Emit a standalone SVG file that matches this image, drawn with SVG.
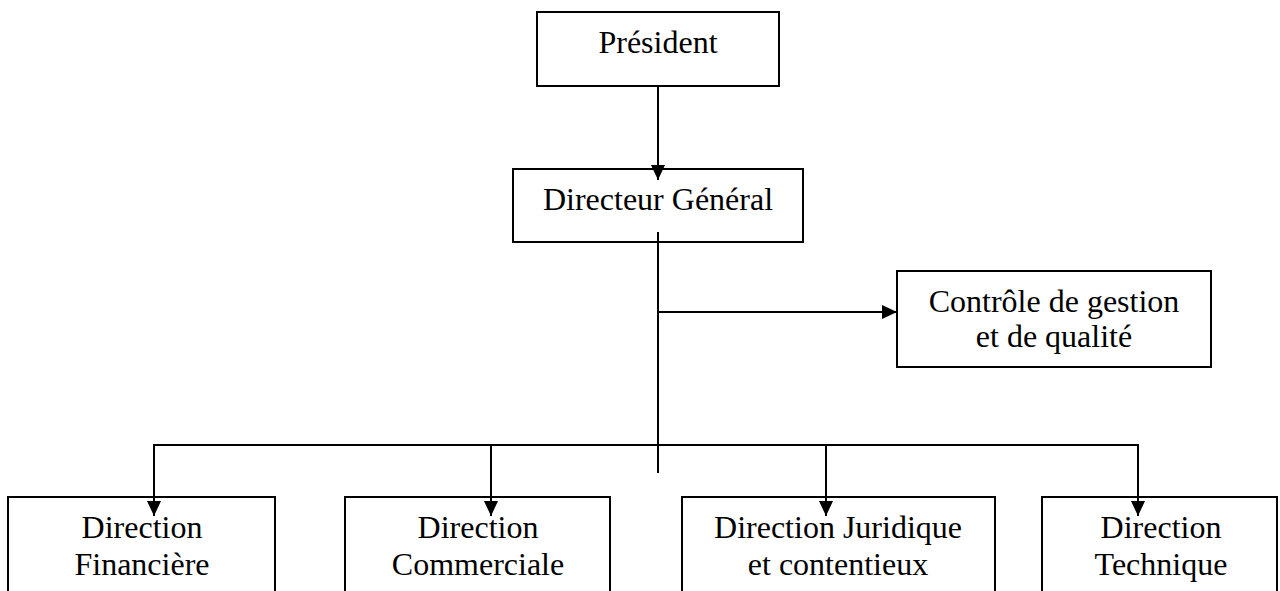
<svg xmlns="http://www.w3.org/2000/svg" width="1280" height="591" viewBox="0 0 1280 591">
  <style>
    .box { fill: #ffffff; stroke: #000000; stroke-width: 2; }
    .lbl { font-family: "Liberation Serif", "Times New Roman", serif; font-size: 32px; fill: #000000; text-anchor: middle; }
    .conn { fill: none; stroke: #000000; stroke-width: 2; }
  </style>
  <defs>
    <marker id="arrow" markerUnits="userSpaceOnUse" markerWidth="15" markerHeight="14" refX="15" refY="7" orient="auto">
      <path d="M0,0 L15,7 L0,14 z" fill="#000000"/>
    </marker>
  </defs>
  <rect width="1280" height="591" fill="#ffffff"/>

  <g id="president">
    <rect class="box" x="537" y="12" width="242" height="74"/>
    <text class="lbl" x="658" y="53">Président</text>
  </g>

  <g id="directeur-general">
    <rect class="box" x="513" y="169" width="290" height="73"/>
    <text class="lbl" x="658" y="210">Directeur Général</text>
  </g>

  <g id="controle">
    <rect class="box" x="897" y="271" width="314" height="96"/>
    <text class="lbl" x="1054" y="312">Contrôle de gestion</text>
    <text class="lbl" x="1054" y="347">et de qualité</text>
  </g>

  <g id="dir-financiere">
    <rect class="box" x="8" y="497" width="267" height="110"/>
    <text class="lbl" x="142" y="538">Direction</text>
    <text class="lbl" x="142" y="575">Financière</text>
  </g>

  <g id="dir-commerciale">
    <rect class="box" x="345" y="497" width="265" height="110"/>
    <text class="lbl" x="478" y="538">Direction</text>
    <text class="lbl" x="478" y="575">Commerciale</text>
  </g>

  <g id="dir-juridique">
    <rect class="box" x="682" y="497" width="313" height="110"/>
    <text class="lbl" x="838" y="538">Direction Juridique</text>
    <text class="lbl" x="838" y="575">et contentieux</text>
  </g>

  <g id="dir-technique">
    <rect class="box" x="1042" y="497" width="235" height="110"/>
    <text class="lbl" x="1161" y="538">Direction</text>
    <text class="lbl" x="1161" y="575">Technique</text>
  </g>

  <g id="connectors">
    <line class="conn" x1="658" y1="86" x2="658" y2="180" marker-end="url(#arrow)"/>
    <line class="conn" x1="658" y1="232" x2="658" y2="473"/>
    <line class="conn" x1="658" y1="312" x2="897" y2="312" marker-end="url(#arrow)"/>
    <line class="conn" x1="153" y1="445" x2="1139" y2="445"/>
    <line class="conn" x1="154" y1="444" x2="154" y2="516" marker-end="url(#arrow)"/>
    <line class="conn" x1="491" y1="444" x2="491" y2="516" marker-end="url(#arrow)"/>
    <line class="conn" x1="826" y1="444" x2="826" y2="516" marker-end="url(#arrow)"/>
    <line class="conn" x1="1138" y1="444" x2="1138" y2="516" marker-end="url(#arrow)"/>
  </g>
</svg>
